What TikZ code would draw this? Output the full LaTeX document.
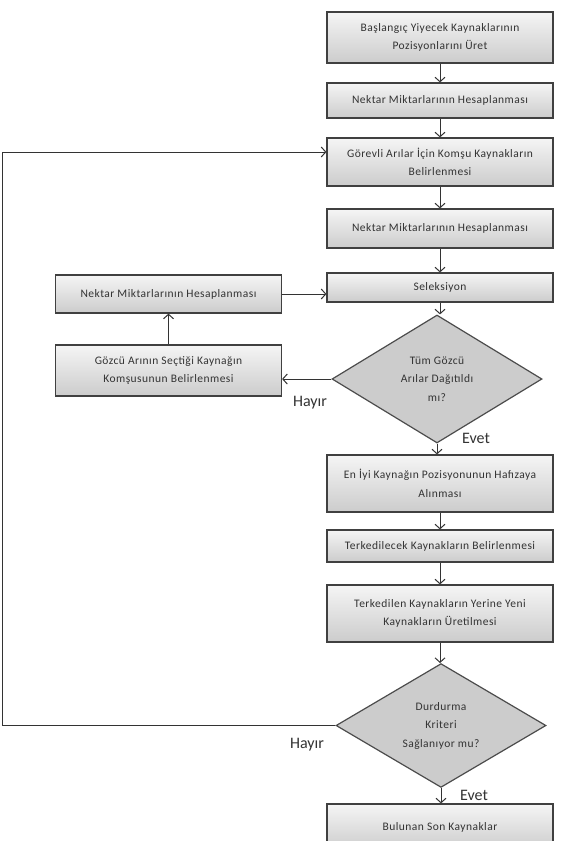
\documentclass[tikz,border=0pt]{standalone}
\usepackage{fontspec}
\setmainfont{Carlito}
\usetikzlibrary{shapes.geometric,arrows.meta}

\begin{document}
\begin{tikzpicture}[x=1pt,y=-1pt,
	every node/.style={text=black!80},
	box/.style={rectangle,draw=black!75,line width=1.2pt,top color=gray!8,bottom color=gray!40,
		minimum width=226pt,align=center,inner sep=1pt,
		font=\fontsize{11.5}{18.5}\selectfont\addfontfeatures{LetterSpace=4}},
	dec/.style={diamond,draw=black!70,line width=1.2pt,fill=gray!40,minimum width=210pt,
		align=center,inner sep=0pt,font=\fontsize{11.5}{18.5}\selectfont\addfontfeatures{LetterSpace=4}},
	arr/.style={-{Straight Barb[length=4.5pt,width=10pt]},line width=1pt,draw=black!80},
	yesno/.style={font=\fontsize{16}{18}\selectfont}]
	\useasboundingbox (0,0) rectangle (564,841);
	\fill[white] (0,0) rectangle (564,841);
	\clip (0,0) rectangle (564,841);

	%main column
	\node[box,minimum height=51pt] (b1) at (440,37.5) {Başlangıç Yiyecek Kaynaklarının\\Pozisyonlarını Üret};
	\node[box,minimum height=35pt] (b2) at (440,100.5) {Nektar Miktarlarının Hesaplanması};
	\node[box,minimum height=48pt] (b3) at (440,162) {Görevli Arılar İçin Komşu Kaynakların\\Belirlenmesi};
	\node[box,minimum height=39pt] (b4) at (440,228.5) {Nektar Miktarlarının Hesaplanması};
	\node[box,minimum height=29pt] (sel) at (440,287.5) {Seleksiyon};
	\node[dec,minimum height=128pt] (d1) at (437,379) {Tüm Gözcü\\Arılar Dağıtıldı\\mı?};
	\node[box,minimum height=57pt] (en) at (440,483.5) {En İyi Kaynağın Pozisyonunun Hafızaya\\Alınması};
	\node[box,minimum height=32pt] (t1) at (440,546) {Terkedilecek Kaynakların Belirlenmesi};
	\node[box,minimum height=57pt] (t2) at (440,613.5) {Terkedilen Kaynakların Yerine Yeni\\Kaynakların Üretilmesi};
	\node[dec,minimum height=123pt] (d2) at (441,725.5) {Durdurma\\Kriteri\\Sağlanıyor mu?};
	\node[box,minimum height=46pt] (son) at (440,827) {Bulunan Son Kaynaklar};

	%left nodes
	\node[box,minimum height=38pt] (l1) at (168.5,294) {Nektar Miktarlarının Hesaplanması};
	\node[box,minimum height=51pt] (l2) at (168.5,370.5) {Gözcü Arının Seçtiği Kaynağın\\Komşusunun Belirlenmesi};

	%labels
	\node[yesno] (h1) at (310,403) {Hayır};
	\node[yesno] (e1) at (476,438) {Evet};
	\node[yesno] (h2) at (307,745) {Hayır};
	\node[yesno] (e2) at (474,795) {Evet};
	\coordinate (fb) at (2,0);

	%edges
	\draw[arr] (b1) -- (b2);
	\draw[arr] (b2) -- (b3);
	\draw[arr] (b3) -- (b4);
	\draw[arr] (b4) -- (sel);
	\draw[arr] (sel.south) -- (sel.south |- d1.north);
	\draw[arr] (d1.south) -- (d1.south |- en.north);
	\draw[arr] (en) -- (t1);
	\draw[arr] (t1) -- (t2);
	\draw[arr] (t2.south) -- (t2.south |- d2.north);
	\draw[arr] (d2.south) -- (d2.south |- son.north);
	\draw[arr] (d1.west) -- (d1.west -| l2.east);
	\draw[arr] (l2) -- (l1);
	\draw[arr] (l1.east) -- (l1.east -| sel.west);
	\draw[arr] (d2.west) -- (d2.west -| fb) |- ([yshift=10pt]b3.west);
\end{tikzpicture}
\end{document}
